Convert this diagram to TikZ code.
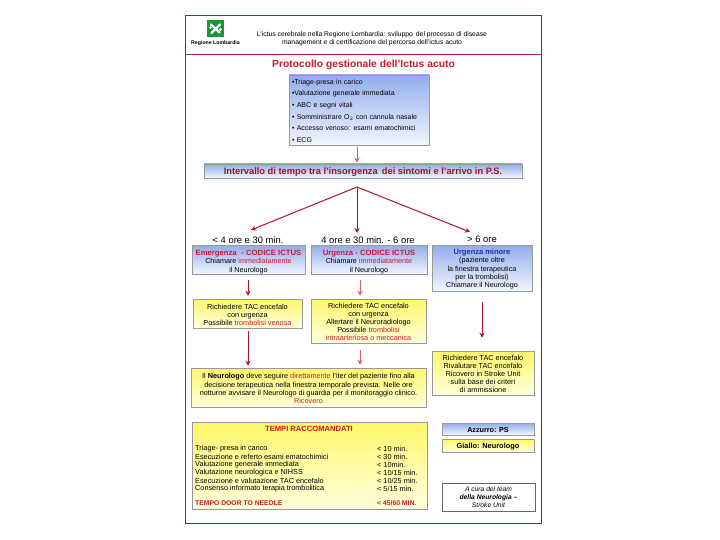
\documentclass[tikz,border=0pt]{standalone}
\usepackage{fontspec}
\setmainfont{Liberation Sans}
\usetikzlibrary{calc, positioning}
\usetikzlibrary{arrows.meta}
\definecolor{frameG}{HTML}{1F5F2E}
\definecolor{logoG}{HTML}{17963C}
\definecolor{lineR}{HTML}{A8283A}
\definecolor{textR}{HTML}{D0182E}
\definecolor{arrR}{HTML}{B0142E}
\definecolor{arrP}{HTML}{D2606E}
\definecolor{textB}{HTML}{1F2F9F}
\definecolor{blueT}{HTML}{93ADEA}
\definecolor{blueB}{HTML}{F1F5FF}
\definecolor{yelT}{HTML}{FFF76A}
\definecolor{yelB}{HTML}{FFFFDC}
\newcommand{\rd}[1]{\textcolor{textR}{#1}}
\newcommand{\fs}[2]{\fontsize{#1}{#2}\selectfont}
\newcommand{\dn}[1]{\rule{0pt}{#1pt}}
\tikzset{
  azbox/.style={draw=black!40, line width=0.5pt, top color=blueT, bottom color=blueB, inner sep=0pt, align=center},
  gialbox/.style={draw=black!40, line width=0.5pt, top color=yelT, bottom color=yelB, inner sep=0pt, align=center},
  redarr/.style={-{Stealth[length=5pt,width=5pt]}, arrR, line width=1pt},
  pinkarr/.style={-{Stealth[length=5pt,width=5pt]}, arrP, line width=1pt},
  rowL/.style={anchor=west, inner sep=0pt, font=\fs{7.3}{8}},
  rowR/.style={anchor=west, inner sep=0pt, font=\fs{7.3}{8}},
  oreL/.style={inner sep=0pt, font=\fs{9.4}{10}},
}
\begin{document}
\begin{tikzpicture}[x=1pt, y=-1pt]
\useasboundingbox (0,0) rectangle (720,540);
\draw[frameG, line width=1pt, fill=white] (185,16) rectangle (541,523);
\draw[lineR, line width=0.8pt] (185,54) -- (541,54);
% logo
\node[fill=logoG, minimum width=17pt, minimum height=17pt, inner sep=0pt] (logo) at (215.5,28.5) {};
\draw[white, line width=2.2pt, line cap=round] ($(logo)+(-4.5,-4)$) -- ($(logo)+(4,4)$);
\draw[white, line width=2.2pt, line cap=round] ($(logo)+(-4,4.5)$) -- ($(logo)+(4.5,-4)$);
\fill[white] ($(logo)+(-5,-1)$) circle (1.4) ($(logo)+(5,1)$) circle (1.6);
\node[inner sep=0pt, font=\fs{5.2}{6}\bfseries] (logotxt) at (215.5,43.5) {Regione Lombardia};
\node[inner sep=0pt, align=center, font=\fs{6.8}{8.3}] (head) at (372,38.5) {L'ictus cerebrale nella Regione Lombardia: sviluppo\, del processo di disease\\management e di certificazione del percorso dell'ictus acuto};
\node[inner sep=0pt, font=\fs{10.3}{12}\bfseries, text=textR] (title) at (363.5,65) {Protocollo gestionale dell'Ictus acuto};
% top box
\node[azbox, minimum width=140pt, minimum height=70pt, align=left, text width=134pt, font=\fs{7}{11.65}] (triage) at (359,110) {%
\dn{6.5}•Triage-presa in carico\\
•Valutazione generale immediata\\
• ABC e segni vitali\\
• Somministrare O$_2$ con cannula nasale\\
• Accesso venoso: esami ematochimici\\
• ECG};
\node[azbox, minimum width=318pt, minimum height=14pt, font=\fs{9.3}{10}\bfseries, text=textR!80!black] (band) at (363,171) {\dn{9}Intervallo di tempo tra l'insorgenza\, dei sintomi e l'arrivo in P.S.};
\draw[pinkarr] ([xshift=-2pt,yshift=-2pt]triage.south) -- ([xshift=-6pt,yshift=1pt]band.north);
% fan
\coordinate (fan) at (357,187);
\coordinate (tipE) at (251,230);
\coordinate (tipU) at (357,233);
\coordinate (tipM) at (470,232);
\draw[redarr] (fan) -- (tipE);
\draw[redarr] (fan) -- (tipU);
\draw[redarr] (fan) -- (tipM);
\node[oreL] (oreE) at (248,240) {< 4 ore e 30 min.};
\node[oreL] (oreU) at (368,240) {4 ore e 30 min. - 6 ore};
\node[oreL] (oreM) at (482,239) {> 6 ore};
% first row
\node[azbox, minimum width=113pt, minimum height=29pt, font=\fs{7.2}{8.5}] (emerg) at (248.5,259.5) {\dn{9.5}\rd{\fs{7.7}{8.5}\bfseries Emergenza\,\, - CODICE ICTUS}\\Chiamare \rd{immediatamente}\\il Neurologo};
\node[azbox, minimum width=116pt, minimum height=29pt, font=\fs{7.2}{8.5}] (urg) at (369,259.5) {\dn{9.5}\rd{\fs{7.7}{8.5}\bfseries Urgenza - CODICE ICTUS}\\Chiamare \rd{immediatamente}\\il Neurologo};
\node[azbox, minimum width=100pt, minimum height=46pt, font=\fs{7.2}{8.3}] (minore) at (482,268) {\dn{7.5}\textcolor{textB}{\fs{7.5}{8.3}\bfseries Urgenza minore}\\(paziente oltre\\la finestra terapeutica\\per la trombolisi)\\Chiamare il Neurologo};
% second row
\node[gialbox, minimum width=109pt, minimum height=29pt, font=\fs{7.3}{8}] (tacE) at (247.5,313.5) {\dn{7.5}Richiedere TAC encefalo\\con urgenza\\Possibile \rd{trombolisi venosa}};
\node[gialbox, minimum width=115pt, minimum height=44pt, font=\fs{7.3}{8.1}] (tacU) at (368.5,321) {\dn{7.5}Richiedere TAC encefalo\\con urgenza\\Allertare il Neuroradiologo\\Possibile \rd{trombolisi}\\\rd{intraarteriosa o meccanica}};
\node[gialbox, minimum width=102pt, minimum height=44pt, font=\fs{7.3}{8}] (tacM) at (483,373) {\dn{7.5}Richiedere TAC encefalo\\Rivalutare TAC encefalo\\Ricovero in Stroke Unit\\sulla base dei criteri\\di ammissione};
% neurologo
\node[gialbox, minimum width=235pt, minimum height=39pt, font=\fs{7.3}{8.3}] (neuro) at (308.5,387.5) {\dn{7.5}Il \textbf{Neurologo} deve seguire \rd{direttamente} l'iter del paziente fino alla\\decisione terapeutica nella finestra temporale prevista. Nelle ore\\notturne avvisare il Neurologo di guardia per il monitoraggio clinico.\\\rd{Ricovero}};
% arrows
\draw[redarr] ([xshift=-0.5pt,yshift=-6pt]emerg.south) -- ([xshift=0.5pt,yshift=3pt]tacE.north);
\draw[pinkarr] ([xshift=-9pt,yshift=-6pt]urg.south) -- ([xshift=-8.5pt,yshift=3pt]tacU.north);
\draw[redarr] ([yshift=-11pt]minore.south) -- ([xshift=-1pt,yshift=13pt]tacM.north);
\draw[redarr] ([xshift=0.5pt,yshift=-3pt]tacE.south) -- ([xshift=-60.5pt,yshift=2pt]neuro.north);
\draw[pinkarr] ([xshift=-8.5pt,yshift=-7pt]tacU.south) -- ([xshift=51.5pt,yshift=3pt]neuro.north);
% tempi
\node[gialbox, minimum width=235pt, minimum height=87pt] (tempi) at (309.5,465.5) {};
\node[inner sep=0pt, font=\fs{7.6}{8}\bfseries, text=textR] (tempiT) at (309,429) {TEMPI RACCOMANDATI};
\node[rowL] (r1) at (195,448.5) {Triage- presa in carico};
\node[rowL] (r2) at (195,456.5) {Esecuzione e referto esami ematochimici};
\node[rowL] (r3) at (195,464.5) {Valutazione generale immediata};
\node[rowL] (r4) at (195,472.5) {Valutazione neurologica e NIHSS};
\node[rowL] (r5) at (195,480.5) {Esecuzione e valutazione TAC encefalo};
\node[rowL] (r6) at (195,488.5) {Consenso informato terapia trombolitica};
\node[rowL, text=textR] (r7) at (195,503.5) {\fs{6.8}{8}\bfseries TEMPO DOOR TO NEEDLE};
\node[rowR] (v1) at (377,448.5) {< 10 min.};
\node[rowR] (v2) at (377,456.5) {< 30 min.};
\node[rowR] (v3) at (377,464.5) {< 10min.};
\node[rowR] (v4) at (377,472.5) {< 10/15 min.};
\node[rowR] (v5) at (377,480.5) {< 10/25 min.};
\node[rowR] (v6) at (377,488.5) {< 5/15 min.};
\node[rowR, text=textR] (v7) at (377,503.5) {\fs{6.8}{8}\bfseries < 45/60 MIN.};
% legenda
\node[azbox, minimum width=92pt, minimum height=12pt, font=\fs{7.2}{8}\bfseries] (leg1) at (488,429) {\dn{7.5}Azzurro: PS};
\node[gialbox, minimum width=92pt, minimum height=13pt, font=\fs{7.4}{8}\bfseries] (leg2) at (488,445.5) {\dn{7.5}Giallo: Neurologo};
\node[draw=black!60, line width=0.5pt, minimum width=93pt, minimum height=28pt, inner sep=0pt, align=center, font=\fs{6.7}{8.2}\itshape] (team) at (488.5,497) {A cura del team\\\textbf{della Neurologia –}\\Stroke Unit};
\end{tikzpicture}
\end{document}
